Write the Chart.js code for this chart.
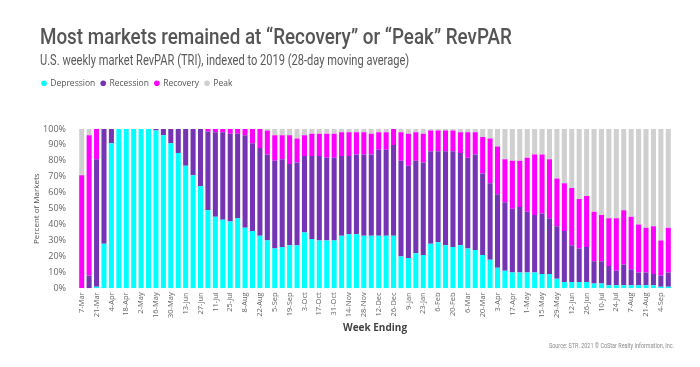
<!DOCTYPE html>
<html>
<head>
<meta charset="utf-8">
<script src="https://cdn.jsdelivr.net/npm/chart.js@4"></script>
<style>
  html, body { margin: 0; padding: 0; background: #fff; }
  #wrap { position: relative; width: 700px; height: 367px; overflow: hidden; }
  canvas { position: absolute; left: 0; top: 0; }
  .fit { position: absolute; white-space: nowrap; transform-origin: left top; font-family: Roboto, "Liberation Sans", sans-serif; }
  #title { left: 40px; top: 26px; font-size: 22px; line-height: 22px; font-weight: 500; color: #555555; }
  #subtitle { left: 40px; top: 53px; font-size: 15px; line-height: 15px; font-weight: 400; color: #5a5a5a; }
  #source { top: 342px; font-size: 7.5px; line-height: 8px; color: #8a8a8a; }
</style>
</head>
<body>
<div id="wrap">
  <canvas id="c" width="700" height="367"></canvas>
  <span class="fit" id="title">Most markets remained at “Recovery” or “Peak” RevPAR</span>
  <span class="fit" id="subtitle">U.S. weekly market RevPAR (TRI), indexed to 2019 (28-day moving average)</span>
  <span class="fit" id="source">Source: STR. 2021 © CoStar Realty Information, Inc.</span>
</div>
<script>
const weekLabels = ["7-Mar","14-Mar","21-Mar","28-Mar","4-Apr","11-Apr","18-Apr","25-Apr","2-May","9-May","16-May","23-May","30-May","6-Jun","13-Jun","20-Jun","27-Jun","4-Jul","11-Jul","18-Jul","25-Jul","1-Aug","8-Aug","15-Aug","22-Aug","29-Aug","5-Sep","12-Sep","19-Sep","26-Sep","3-Oct","10-Oct","17-Oct","24-Oct","31-Oct","7-Nov","14-Nov","21-Nov","28-Nov","5-Dec","12-Dec","19-Dec","26-Dec","2-Jan","9-Jan","16-Jan","23-Jan","30-Jan","6-Feb","13-Feb","20-Feb","27-Feb","6-Mar","13-Mar","20-Mar","27-Mar","3-Apr","10-Apr","17-Apr","24-Apr","1-May","8-May","15-May","22-May","29-May","5-Jun","12-Jun","19-Jun","26-Jun","3-Jul","10-Jul","17-Jul","24-Jul","31-Jul","7-Aug","14-Aug","21-Aug","28-Aug","4-Sep","11-Sep"];

const depression = [0,0,1,28,91,100,100,100,100,100,99,96,91,85,77,71,64,49,45,43,42,44,38,36,33,30,25,26,27,27,35,31,30,30,30,33,34,34,33,33,33,33,33,20,19,22,21,28,29,27,26,27,25,24,21,18,13,11,10,10,10,10,9,9,6,4,4,4,4,3,3,2,2,2,2,2,2,2,1,1];
const recession  = [0,8,80,72,9,0,0,0,0,0,1,4,9,15,23,29,36,49.5,53,55,55,53,58,55,55,54,55,55,51,52,48,52,53,52,52,50,49,50,51,51,54,54,57,60,58,58,58,58,57,59,60,58,57,60,51,48,46,43,40,41,38,36,38,35,33,32,23,21,22,14,14,12,9,13,10,8,8,7,7,9];
const recovery   = [71,88,19,0,0,0,0,0,0,0,0,0,0,0,0,0,0,1.5,2,2,3,3,4,9,12,15,16,15,18,15,13,14,14,15,15,15,15,14,14,13,11,11,10,18,20,18,18,13,13,13,13,13,16,14,23,28,30,27,30,29,34,38,37,37,30,30,36,31,32,31,29,30,33,34,33,30,28,30,22,28];
const peak       = [29,4,0,0,0,0,0,0,0,0,0,0,0,0,0,0,0,0,0,0,0,0,0,0,0,1,4,4,4,6,4,3,3,3,3,2,2,2,2,3,2,2,0,2,3,2,3,1,1,1,1,2,2,2,5,6,11,19,20,20,18,16,16,19,31,34,37,44,42,52,54,56,56,51,55,60,62,61,70,62];

// fit condensed-looking text to the reference widths
function fitWidth(id, w, rightAnchor) {
  const el = document.getElementById(id);
  const s = w / el.offsetWidth;
  el.style.transform = 'scaleX(' + s + ')';
  if (rightAnchor !== undefined) el.style.left = (rightAnchor - w) + 'px';
}
fitWidth('title', 472);
fitWidth('subtitle', 369);
fitWidth('source', 125, 674);

const SANS = '"Open Sans", "Liberation Sans", sans-serif';

const legendSpacer = {
  id: 'legendSpacer',
  beforeInit(chart) {
    const orig = chart.legend.fit;
    chart.legend.fit = function () {
      orig.call(this);
      this.height = 56;
    };
  },
  afterLayout(chart) {
    chart.legend.left += 4;
  }
};

new Chart(document.getElementById('c'), {
  type: 'bar',
  data: {
    labels: weekLabels,
    datasets: [
      { label: 'Depression', data: depression, backgroundColor: '#00FFFF' },
      { label: 'Recession', data: recession, backgroundColor: '#7434B4' },
      { label: 'Recovery', data: recovery, backgroundColor: '#FF00FF' },
      { label: 'Peak', data: peak, backgroundColor: '#D0D0D0' }
    ]
  },
  plugins: [legendSpacer],
  options: {
    responsive: false,
    animation: false,
    layout: { padding: { left: 32, right: 28, top: 73, bottom: 33 } },
    datasets: { bar: { barPercentage: 0.68, categoryPercentage: 1.0 } },
    plugins: {
      title: { display: false },
      legend: {
        display: true, position: 'top', align: 'start',
        labels: { usePointStyle: true, pointStyle: 'circle', boxWidth: 4, boxHeight: 4, padding: 6,
                  color: '#555', font: { family: SANS, size: 8.5, weight: '500' } }
      },
      tooltip: { enabled: false }
    },
    scales: {
      x: {
        stacked: true,
        grid: { display: false, drawTicks: false },
        border: { display: false },
        ticks: {
          autoSkip: false, maxRotation: 90, minRotation: 90, color: '#666',
          font: { family: SANS, size: 7.5 }, padding: 4,
          callback: function (v, i) { return i % 2 === 0 ? weekLabels[i] : ''; }
        },
        title: { display: true, text: 'Week Ending', color: '#444', font: { family: SANS, size: 10, weight: 'bold' }, padding: { top: 0, bottom: 0 } }
      },
      y: {
        stacked: true, min: 0, max: 100,
        afterFit: function (scale) { scale.width = 46; },
        grid: { display: false, drawTicks: false },
        border: { display: false },
        ticks: { stepSize: 10, color: '#666', font: { family: SANS, size: 9 }, padding: 12,
                 callback: v => v + '%' },
        title: { display: true, text: 'Percent of Markets', color: '#555', font: { family: SANS, size: 8 }, padding: { top: 0, bottom: 2 } }
      }
    }
  }
});
</script>
</body>
</html>
